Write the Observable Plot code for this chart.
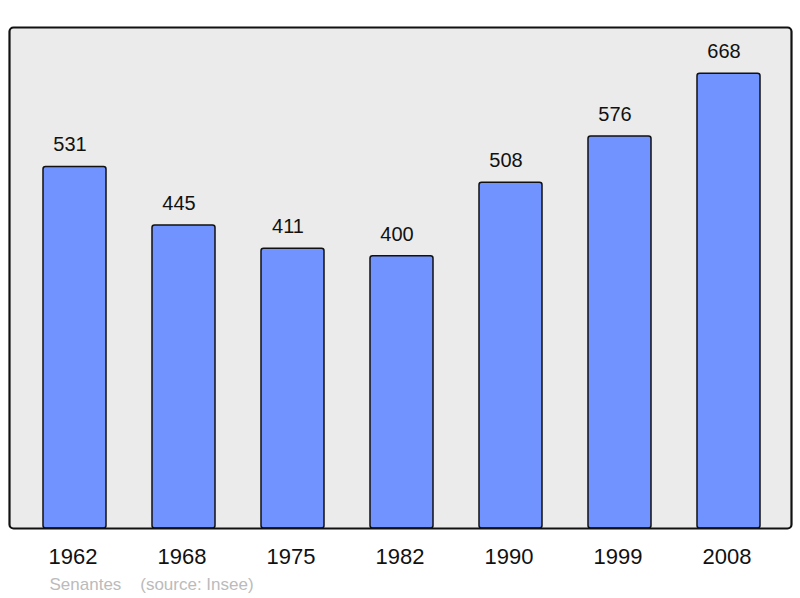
<!DOCTYPE html>
<html><head><meta charset="utf-8">
<script src="https://cdn.jsdelivr.net/npm/d3@7"></script>
<script src="https://cdn.jsdelivr.net/npm/@observablehq/plot@0.6"></script>
<style>body{margin:0;background:#fff}</style>
</head><body><div id="chart"></div>
<script>
const years = ["1962","1968","1975","1982","1990","1999","2008"];
const population = [531, 445, 411, 400, 508, 576, 668];
const captionText = "Senantes\u00a0\u00a0\u00a0\u00a0(source: Insee)";

const data = years.map((y, i) => ({year: y, value: population[i]}));
const font = "Liberation Sans, Arial, sans-serif";

const chart = Plot.plot({
  width: 800, height: 598,
  marginTop: 27, marginBottom: 70, marginLeft: 9, marginRight: 9,
  style: {fontFamily: font, background: "#fff", overflow: "visible"},
  x: {domain: years, range: [10, 793.5], paddingInner: 0.42, paddingOuter: 0.29, label: null},
  y: {domain: [0, 736], axis: null},
  marks: [
    Plot.frame({fill: "#ebebeb", stroke: "none", rx: 4}),
    Plot.barY(data, {x: "year", y: "value", fill: "#7093ff", stroke: "#111", strokeWidth: 1.5, rx: 2.5}),
    Plot.frame({fill: "none", stroke: "#111", strokeWidth: 2.2, rx: 4}),
    Plot.text(data, {x: "year", y: "value", text: d => String(d.value), dx: -5, dy: -22, fontSize: 20, fill: "#111", lineAnchor: "middle"}),
    Plot.axisX({tickSize: 0, tickPadding: 20, dx: -2, fontSize: 22, color: "#111", label: null}),
    Plot.text([captionText], {frameAnchor: "bottom-left", dx: 40, dy: 56, text: d => d, fontSize: 17, fill: "#bbbbbb", textAnchor: "start", lineAnchor: "middle"})
  ]
});
document.getElementById("chart").appendChild(chart);
</script>
</body></html>
